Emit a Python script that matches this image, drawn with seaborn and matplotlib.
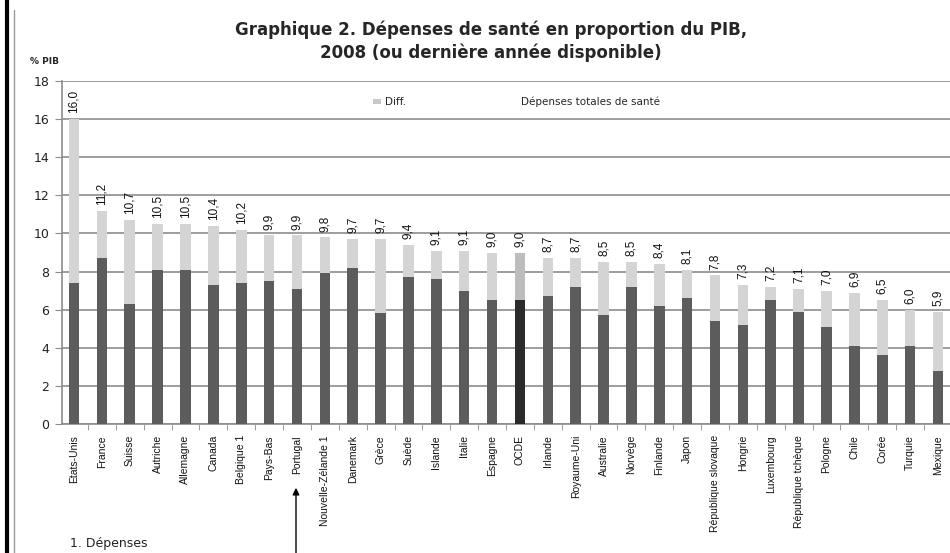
import matplotlib
matplotlib.use("Agg")
import matplotlib.pyplot as plt
import seaborn as sns
import pandas as pd
from matplotlib.patches import Patch
from matplotlib.lines import Line2D
from matplotlib.ticker import FixedLocator

countries = ['Etats-Unis', 'France', 'Suisse', 'Autriche', 'Allemagne', 'Canada',
             'Belgique 1', 'Pays-Bas', 'Portugal', 'Nouvelle-Zélande 1', 'Danemark',
             'Grèce', 'Suède', 'Islande', 'Italie', 'Espagne', 'OCDE', 'Irlande',
             'Royaume-Uni', 'Australie', 'Norvège', 'Finlande', 'Japon',
             'République slovaque', 'Hongrie', 'Luxembourg', 'République tchèque',
             'Pologne', 'Chile', 'Corée', 'Turquie', 'Mexique']
totals = [16.0, 11.2, 10.7, 10.5, 10.5, 10.4, 10.2, 9.9, 9.9, 9.8, 9.7, 9.7, 9.4, 9.1,
          9.1, 9.0, 9.0, 8.7, 8.7, 8.5, 8.5, 8.4, 8.1, 7.8, 7.3, 7.2, 7.1, 7.0, 6.9,
          6.5, 6.0, 5.9]
public = [7.4, 8.7, 6.3, 8.1, 8.1, 7.3, 7.4, 7.5, 7.1, 7.9, 8.2, 5.8, 7.7, 7.6, 7.0,
          6.5, 6.5, 6.7, 7.2, 5.7, 7.2, 6.2, 6.6, 5.4, 5.2, 6.5, 5.9, 5.1, 4.1, 3.6,
          4.1, 2.8]
yticks = [0, 2, 4, 6, 8, 10, 12, 14, 16, 18]

df = pd.DataFrame({"pays": countries, "total": totals, "public": public})

sns.set_style("white")
plt.rcParams['font.family'] = ['DejaVu Sans']

fig = plt.figure(figsize=(9.5, 5.53), dpi=100)
ax = fig.add_axes([62 / 950, 1 - 424 / 553, 888 / 950, 343 / 553])

light = {c: ('#bdbdbd' if c == 'OCDE' else '#d4d4d4') for c in countries}
dark = {c: ('#2b2b2b' if c == 'OCDE' else '#5c5c5c') for c in countries}

sns.barplot(data=df, x="pays", y="total", hue="pays", palette=light, order=countries,
            width=0.38, legend=False, ax=ax, saturation=1, zorder=3, linewidth=0)
sns.barplot(data=df, x="pays", y="public", hue="pays", palette=dark, order=countries,
            width=0.38, legend=False, ax=ax, saturation=1, zorder=3, linewidth=0)

ax.set_xlim(-0.43, 31.43)
ax.set_ylim(0, 18)
ax.set_yticks(yticks)
ax.set_yticklabels([str(t) for t in yticks], fontsize=9, color='#222222')
ax.yaxis.grid(True, color='#8c8c8c', lw=1.2, zorder=0)
ax.set_axisbelow(True)
ax.set_xlabel("")
ax.set_ylabel("")

narrow = ['Liberation Sans', 'DejaVu Sans']
ax.set_xticks(range(len(countries)))
ax.set_xticklabels(countries, rotation=90, fontsize=7.5, family=narrow, color='#111111')
ax.tick_params(axis='x', which='major', length=0, pad=8)
ax.xaxis.set_minor_locator(FixedLocator([i + 0.5 for i in range(-1, len(countries))]))
ax.tick_params(axis='x', which='minor', length=4, color='#8c8c8c', direction='out', bottom=True)
ax.tick_params(axis='y', length=5, color='#8c8c8c', direction='out', left=True, pad=4)

for s in ['top', 'right']:
    ax.spines[s].set_visible(False)
for s in ['left', 'bottom']:
    ax.spines[s].set_color('#8c8c8c')
    ax.spines[s].set_linewidth(1.2)

for i, t in enumerate(totals):
    ax.text(i, t + 0.3, f"{t:.1f}".replace('.', ','), rotation=90, ha='center',
            va='bottom', fontsize=8.5, family=narrow, color='#111111', zorder=4)

handles = [Patch(facecolor='#c8c8c8', edgecolor='none'),
           Patch(facecolor='none', edgecolor='none')]
ax.legend(handles, ['Diff.', 'Dépenses totales de santé'], ncol=2, frameon=False,
          loc='center', bbox_to_anchor=(0.512, 0.939), fontsize=7.5,
          handlelength=0.8, handleheight=0.4, handletextpad=0.3, columnspacing=10)

fig.text(0.517, 1 - 41 / 553,
         "Graphique 2. Dépenses de santé en proportion du PIB,\n2008 (ou dernière année disponible)",
         ha='center', va='center', fontsize=12, fontweight='bold', linespacing=1.3)
fig.text(30 / 950, 1 - 62 / 553, "% PIB", fontsize=6.5, fontweight='bold', va='center')
fig.text(70 / 950, 1 - 543 / 553, "1. Dépenses", fontsize=9, va='center', color='#222222')

ax.annotate('', xy=(296 / 950, 1 - 485 / 553), xytext=(296 / 950, -0.01),
            xycoords='figure fraction', textcoords='figure fraction',
            arrowprops=dict(arrowstyle='-|>', color='black', lw=1, mutation_scale=10))

fig.add_artist(Line2D([6.5 / 950, 6.5 / 950], [0, 1], lw=3, color='black'))
fig.add_artist(Line2D([14 / 950, 14 / 950], [0, 1 - 10 / 553], lw=1, color='#9a9a9a'))

fig.savefig("out.png", dpi=100)
